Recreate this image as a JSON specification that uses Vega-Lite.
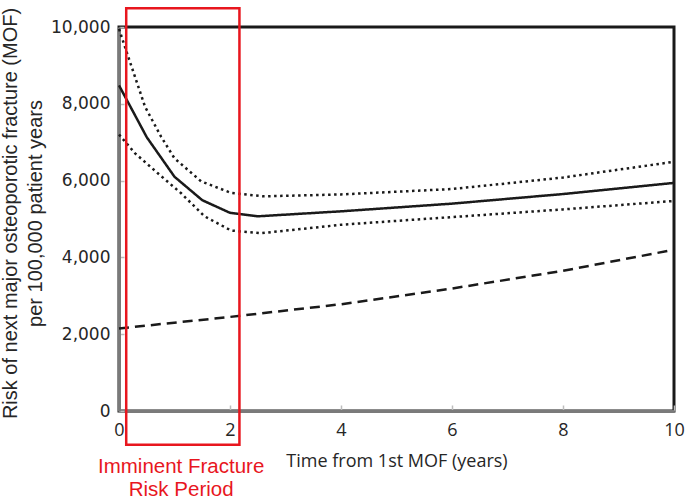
{
  "$schema": "https://vega.github.io/schema/vega-lite/v6.json",
  "autosize": "none",
  "width": 555,
  "height": 384,
  "padding": {"left": 119, "top": 27, "right": 11, "bottom": 88},
  "background": "white",
  "config": {
    "view": {"stroke": "#1a1a1a", "strokeWidth": 3},
    "axis": {
      "grid": false,
      "domainColor": "#7a7a7a",
      "domainWidth": 3,
      "tickColor": "#bdbdbd",
      "tickWidth": 1.5,
      "labelColor": "#262626",
      "titleColor": "#262626",
      "titleFontWeight": "normal",
      "labelFlush": false
    }
  },
  "datasets": {
    "curves": [
      {"t": 0, "risk": 8480, "series": "Estimate"},
      {"t": 0.5, "risk": 7130, "series": "Estimate"},
      {"t": 1.0, "risk": 6100, "series": "Estimate"},
      {"t": 1.5, "risk": 5490, "series": "Estimate"},
      {"t": 2.0, "risk": 5160, "series": "Estimate"},
      {"t": 2.5, "risk": 5070, "series": "Estimate"},
      {"t": 4, "risk": 5200, "series": "Estimate"},
      {"t": 6, "risk": 5400, "series": "Estimate"},
      {"t": 8, "risk": 5650, "series": "Estimate"},
      {"t": 10, "risk": 5940, "series": "Estimate"},
      {"t": 0, "risk": 9950, "series": "Upper"},
      {"t": 0.17, "risk": 9210, "series": "Upper"},
      {"t": 0.47, "risk": 7920, "series": "Upper"},
      {"t": 0.76, "risk": 7140, "series": "Upper"},
      {"t": 1.0, "risk": 6580, "series": "Upper"},
      {"t": 1.48, "risk": 5980, "series": "Upper"},
      {"t": 2.02, "risk": 5680, "series": "Upper"},
      {"t": 2.6, "risk": 5590, "series": "Upper"},
      {"t": 4, "risk": 5640, "series": "Upper"},
      {"t": 6, "risk": 5780, "series": "Upper"},
      {"t": 8, "risk": 6080, "series": "Upper"},
      {"t": 10, "risk": 6490, "series": "Upper"},
      {"t": 0, "risk": 7200, "series": "Lower"},
      {"t": 0.29, "risk": 6710, "series": "Lower"},
      {"t": 0.7, "risk": 6190, "series": "Lower"},
      {"t": 1.12, "risk": 5670, "series": "Lower"},
      {"t": 1.54, "risk": 5070, "series": "Lower"},
      {"t": 2.02, "risk": 4700, "series": "Lower"},
      {"t": 2.56, "risk": 4630, "series": "Lower"},
      {"t": 4, "risk": 4850, "series": "Lower"},
      {"t": 6, "risk": 5050, "series": "Lower"},
      {"t": 8, "risk": 5250, "series": "Lower"},
      {"t": 10, "risk": 5470, "series": "Lower"},
      {"t": 0, "risk": 2150, "series": "Baseline"},
      {"t": 2, "risk": 2450, "series": "Baseline"},
      {"t": 4, "risk": 2780, "series": "Baseline"},
      {"t": 6, "risk": 3190, "series": "Baseline"},
      {"t": 8, "risk": 3650, "series": "Baseline"},
      {"t": 10, "risk": 4200, "series": "Baseline"}
    ],
    "period": [
      {"start": 0.13, "end": 2.17, "low": -880, "high": 10490}
    ],
    "labels": [
      {"t": 1.12, "risk": -1460, "text": "Imminent Fracture"},
      {"t": 1.12, "risk": -2050, "text": "Risk Period"}
    ]
  },
  "layer": [
    {
      "data": {"name": "curves"},
      "mark": {"type": "line", "strokeWidth": 2.5, "color": "#1a1a1a"},
      "encoding": {
        "x": {
          "field": "t", "type": "quantitative",
          "scale": {"domain": [0, 10], "nice": false},
          "axis": {
            "values": [0, 2, 4, 6, 8, 10],
            "tickSize": -6,
            "labelFont": "Open Sans",
            "labelFontSize": 18,
            "labelPadding": 16,
            "title": "Time from 1st MOF (years)",
            "titleFont": "Open Sans",
            "titleFontSize": 18,
            "titleBaseline": "middle",
            "titleY": 50
          }
        },
        "y": {
          "field": "risk", "type": "quantitative",
          "scale": {"domain": [0, 10000], "nice": false},
          "axis": {
            "values": [0, 1000, 2000, 3000, 4000, 5000, 6000, 7000, 8000, 9000, 10000],
            "labelExpr": "datum.value % 2000 === 0 ? format(datum.value, ',') : ''",
            "tickSize": -5,
            "labelFont": "DejaVu Sans",
            "labelFontSize": 17,
            "labelPadding": 14,
            "title": ["Risk of next major osteoporotic fracture (MOF)", "per 100,000 patient years"],
            "titleFont": "Liberation Sans",
            "titleFontSize": 20,
            "titleLineHeight": 25,
            "titleAngle": -90,
            "titleBaseline": "top",
            "titleAlign": "center",
            "titleX": -119,
            "titleY": 186
          }
        },
        "detail": {"field": "series"},
        "strokeDash": {
          "field": "series", "type": "nominal",
          "scale": {
            "domain": ["Estimate", "Upper", "Lower", "Baseline"],
            "range": [[1, 0], [2.5, 3.5], [2.5, 3.5], [10, 6]]
          },
          "legend": null
        }
      }
    },
    {
      "data": {"name": "period"},
      "mark": {"type": "rect", "fill": null, "fillOpacity": 0, "stroke": "#e8161e", "strokeWidth": 2.5, "clip": false},
      "encoding": {
        "x": {"field": "start", "type": "quantitative"},
        "x2": {"field": "end"},
        "y": {"field": "low", "type": "quantitative"},
        "y2": {"field": "high"}
      }
    },
    {
      "data": {"name": "labels"},
      "mark": {"type": "text", "color": "#e8161e", "font": "Liberation Sans", "fontSize": 20.5, "align": "center", "baseline": "middle", "clip": false},
      "encoding": {
        "x": {"field": "t", "type": "quantitative"},
        "y": {"field": "risk", "type": "quantitative"},
        "text": {"field": "text"}
      }
    }
  ]
}
